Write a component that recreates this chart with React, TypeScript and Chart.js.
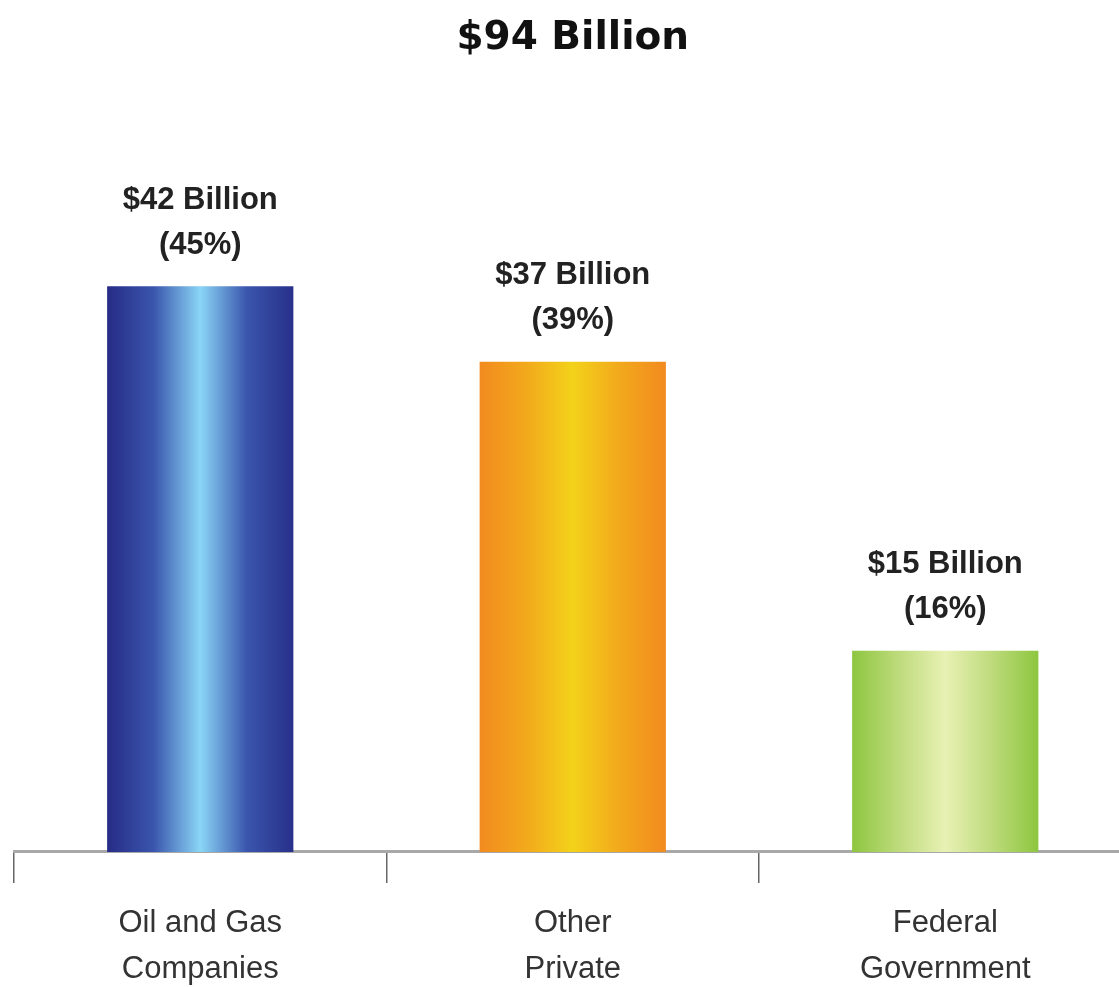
import { useEffect, useRef } from 'react';
import { Chart, registerables } from 'chart.js';

Chart.register(...registerables);

const TITLE = '$94 Billion';
const categories: string[][] = [
  ['Oil and Gas', 'Companies'],
  ['Other', 'Private'],
  ['Federal', 'Government'],
];
const dollarsBillion = [42, 37, 15];
const sharePercent = [45, 39, 16];
const Y_MAX = 60;

const barGradients: string[][] = [
  ['#262c86', '#3a55ad', '#8ad6f6', '#3a55ad', '#28308a'],
  ['#f28a1f', '#f2a91c', '#f3d21a', '#f2a91c', '#f28a1f'],
  ['#8dc63f', '#bedb7c', '#e8f1b4', '#bedb7c', '#8dc63f'],
];

const LABEL_FONT = "'Liberation Sans', Arial, sans-serif";

const valueLabels = {
  id: 'valueLabels',
  afterDatasetsDraw(chart: any) {
    const ctx = chart.ctx;
    const meta = chart.getDatasetMeta(0);
    ctx.save();
    ctx.fillStyle = '#222';
    ctx.textAlign = 'center';
    ctx.textBaseline = 'middle';
    ctx.font = `bold 31px ${LABEL_FONT}`;
    meta.data.forEach((bar: any, i: number) => {
      ctx.fillText(`$${dollarsBillion[i]} Billion`, bar.x, bar.y - 86);
      ctx.fillText(`(${sharePercent[i]}%)`, bar.x, bar.y - 41);
    });
    ctx.restore();
  },
};

export default function App() {
  const ref = useRef<HTMLCanvasElement>(null);
  useEffect(() => {
    if (!ref.current) return;
    const chart = new Chart(ref.current, {
      type: 'bar',
      data: {
        labels: categories,
        datasets: [
          {
            data: sharePercent,
            backgroundColor: (c: any) => {
              const ch = c.chart;
              const stops = barGradients[c.dataIndex] || barGradients[0];
              if (!ch.chartArea || !ch.scales.x) return stops[0];
              const xs = ch.scales.x;
              const center = xs.getPixelForValue(c.dataIndex);
              const half = (xs.width / categories.length) * 0.25;
              const g = ch.ctx.createLinearGradient(center - half, 0, center + half, 0);
              stops.forEach((s: string, k: number) => g.addColorStop(k / (stops.length - 1), s));
              return g;
            },
            borderWidth: 0,
            categoryPercentage: 1,
            barPercentage: 0.5,
          },
        ],
      },
      options: {
        animation: false,
        responsive: true,
        maintainAspectRatio: false,
        layout: { padding: { left: 14, right: 8.5, top: 0, bottom: 0 } },
        plugins: {
          legend: { display: false },
          tooltip: { enabled: false },
          title: {
            display: true,
            text: TITLE,
            color: '#111',
            font: { family: "'DejaVu Sans', sans-serif", weight: 'bold', size: 39 },
            padding: { top: 15, bottom: 36 },
          },
        },
        scales: {
          y: { display: false, min: 0, max: Y_MAX },
          x: {
            grid: {
              offset: true,
              drawOnChartArea: false,
              drawTicks: true,
              tickLength: 31,
              color: '#666',
              lineWidth: 1.5,
            },
            border: { display: true, color: '#a8a8a8', width: 3 },
            ticks: {
              color: '#333',
              padding: 17,
              font: { family: LABEL_FONT, size: 31, lineHeight: 1.484 },
              maxRotation: 0,
            },
          },
        },
      },
      plugins: [valueLabels],
    } as any);
    return () => chart.destroy();
  }, []);

  return (
    <div style={{ position: 'fixed', left: 0, top: 0, width: 1119, height: 987, overflow: 'hidden', background: '#fff' }}>
      <div style={{ position: 'relative', width: 1140, height: 1009 }}>
        <canvas ref={ref} />
      </div>
    </div>
  );
}
